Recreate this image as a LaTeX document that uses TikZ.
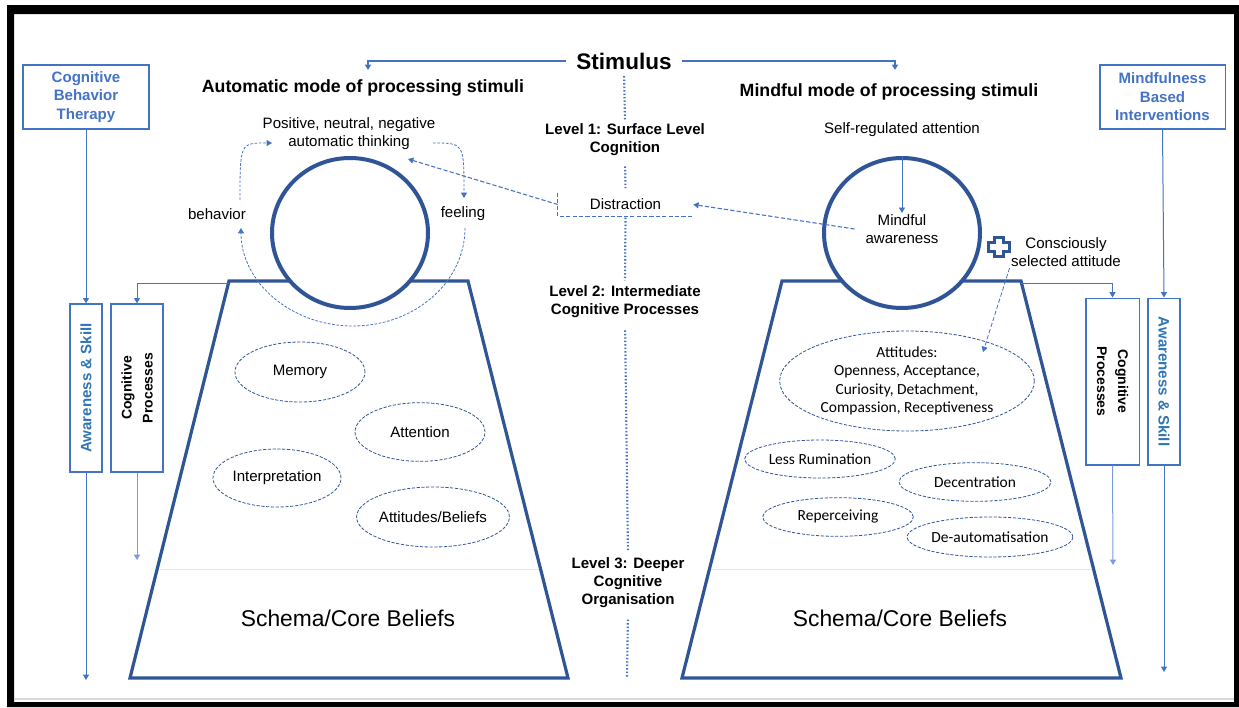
\documentclass[tikz,border=0pt]{standalone}
\usepackage{fontspec}
\setmainfont{Liberation Sans}
\newfontfamily\calfont{Carlito}
\usetikzlibrary{shapes.geometric,arrows.meta}
\definecolor{dkblue}{HTML}{2F5597}
\definecolor{ltblue}{HTML}{4472C4}
\definecolor{skillblue}{HTML}{2E75B6}
\newcommand\pxsize[2]{\fontsize{#1}{#2}\selectfont}

\tikzset{
  tip/.style={-{Triangle[width=4.5pt,length=4pt]}},
  conn/.style={draw=ltblue, line width=1.1pt, tip},
  thinconn/.style={draw=ltblue, line width=0.75pt, tip},
  dashconn/.style={draw=ltblue, line width=0.8pt, dash pattern=on 3.2pt off 1.6pt, tip},
  dasharc/.style={draw=ltblue, line width=0.6pt, dash pattern=on 2pt off 1.2pt, tip},
  dotline/.style={draw=ltblue, line width=1.6pt, dash pattern=on 1.1pt off 1.5pt},
  trap/.style={draw=dkblue, line width=2.4pt, line join=miter},
  sepline/.style={draw=black!10, line width=0.75pt},
  ring/.style={ellipse, draw=dkblue, line width=3pt, fill=white, inner sep=0pt,
    minimum width=117pt, minimum height=112.5pt},
  bubble/.style={ellipse, draw=dkblue, line width=0.6pt, dash pattern=on 2.4pt off 1.2pt,
    inner sep=0pt, align=center, font=\pxsize{11.3}{13.5}},
  mbubble/.style={bubble, font=\calfont\pxsize{11.6}{13.7}},
  sidebox/.style={draw=ltblue, line width=1pt, inner sep=0pt},
  sidetext/.style={font=\bfseries\pxsize{11.3}{13.9}, align=center, inner sep=0pt},
  lvl/.style={font=\bfseries\pxsize{11.3}{13.5}, align=center, inner sep=1pt},
  body/.style={font=\pxsize{11.3}{13.5}, align=center, inner sep=1pt},
  title/.style={font=\bfseries\pxsize{13.3}{16}, inner sep=1pt},
  schema/.style={font=\pxsize{17.1}{20}, inner sep=1pt},
}

\begin{document}
\begin{tikzpicture}[x=0.75pt,y=-0.75pt]
\useasboundingbox (0,0) rectangle (1239,707);

% frame
\fill[black, even odd rule] (7,5) rectangle (1239,707) (14,14) rectangle (1234,702);
\draw[black!15, line width=0.9pt] (14,699) -- (1234,699);

% the two processing trapezoids
\draw[trap] (229,281) -- (468,281) -- (568,678) -- (130,678) -- cycle;
\draw[trap] (782,281) -- (1021,281) -- (1121,678) -- (682,678) -- cycle;
\draw[sepline] (160,569) -- (539,569);
\draw[sepline] (711,569) -- (1092,569);
\coordinate (ltl) at (229,283);
\coordinate (rtr) at (1021,283);

% surface-level circles
\node[ring] (lcirc) at (350,233) {};
\node[ring] (rcirc) at (902,233) {};

% headings
\node[font=\bfseries\pxsize{16.9}{20}, inner xsep=7.5pt, inner ysep=1pt] (stim) at (624,61) {Stimulus};
\node[title] (automode) at (363,88) {Automatic mode of processing stimuli};
\node[title] (mindmode) at (889,92) {Mindful mode of processing stimuli};
\coordinate (autoIn) at (368,70);
\coordinate (mindIn) at (895,70);
\draw[conn] (stim.west) -| (autoIn);
\draw[conn] (stim.east) -| (mindIn);

% levels along the middle
\node[lvl] (lev1) at (625,140) {Level 1: Surface Level\\Cognition};
\node[body, minimum width=101.25pt, minimum height=17.25pt, inner sep=0pt] (distr) at (625.5,204.5) {Distraction};
\node[lvl] (lev2) at (625,302) {Level 2: Intermediate\\Cognitive Processes};
\node[lvl] (lev3) at (628,583) {Level 3: Deeper\\Cognitive\\Organisation};
\coordinate (midEnd) at (627,677);
\draw[dashconn, -] (distr.north west) -- (distr.south west) -- (distr.south east);
\draw[dotline, shorten <=4pt, shorten >=2pt] (stim.south) -- (lev1.north);
\draw[dotline, shorten <=6.5pt, shorten >=3.5pt] (lev1.south) -- (distr.north);
\draw[dotline, shorten <=1pt, shorten >=3pt] (distr.south) -- (lev2.north);
\draw[dotline, shorten <=8pt, shorten >=4.5pt] (lev2.south) -- (lev3.north);
\draw[dotline, shorten <=7.5pt] (lev3.south) -- (midEnd);

% automatic cycle
\node[body] (athink) at (349,134) {Positive, neutral, negative\\automatic thinking};
\node[body] (behav) at (217,214) {behavior};
\node[body] (feel) at (463,214) {feeling};
\coordinate (behUp) at (240,200);
\coordinate (athL) at (272,143);
\coordinate (athR) at (433,143);
\coordinate (feelUp) at (464,198);
\coordinate (feelDn) at (465,228);
\coordinate (athinkIn) at (408,159);
\draw[dasharc] (behUp) .. controls (240,143) .. (athL);
\draw[dasharc] (athR) .. controls (464,143) .. (feelUp);
\draw[dasharc] (feelDn) arc[start angle=0, end angle=180, x radius=112, y radius=98];

% mindful side
\node[body] (sra) at (902,130) {Self-regulated attention};
\node[body] (mind) at (902,229) {Mindful\\awareness};
\node[body] (consc) at (1066,252) {Consciously\\selected attitude};
\draw[thinconn, line width=0.6pt] (rcirc.north) -- (mind.north);
\draw[dashconn] (distr.west) -- (athinkIn);
\draw[dashconn] ([xshift=-7pt]mind.west) -- (distr.east);
\draw[dkblue, line width=2.6pt, fill=white, line join=miter]
  (994.5,237.5) -- (1003.5,237.5) -- (1003.5,242.5) -- (1009.5,242.5) -- (1009.5,251.5) -- (1003.5,251.5)
  -- (1003.5,256.5) -- (994.5,256.5) -- (994.5,251.5) -- (988.5,251.5) -- (988.5,242.5) -- (994.5,242.5) -- cycle;

% cognitive processes, automatic mode
\node[bubble, minimum width=97.5pt, minimum height=45pt] (memory) at (300,372) {Memory};
\node[bubble, minimum width=97.5pt, minimum height=44pt] (attention) at (420,432) {Attention};
\node[bubble, minimum width=96pt, minimum height=43.5pt] (interp) at (277,478) {Interpretation};
\node[bubble, minimum width=96pt, minimum height=45pt] (attbel) at (433,517) {Attitudes/Beliefs};

% cognitive processes, mindful mode
\node[mbubble, minimum width=191pt, minimum height=75pt] (attitudes) at (907,381)
  {Attitudes:\\Openness, Acceptance,\\Curiosity, Detachment,\\Compassion, Receptiveness};
\node[mbubble, minimum width=113pt, minimum height=28.5pt] (rumin) at (820,459) {Less Rumination};
\node[mbubble, minimum width=114pt, minimum height=29pt] (decent) at (975,482) {Decentration};
\node[mbubble, minimum width=113pt, minimum height=29pt] (reperc) at (838,517) {Reperceiving};
\node[mbubble, minimum width=115pt, minimum height=30pt] (deauto) at (990,537) {De-automatisation};
\coordinate (attIn) at (983,352);
\draw[dashconn, line width=0.6pt] (consc.south west) -- (attIn);

% core beliefs
\node[schema] (schemaL) at (348,618) {Schema/Core Beliefs};
\node[schema] (schemaR) at (900,618) {Schema/Core Beliefs};

% therapy side columns, left
\node[sidebox, minimum width=94.5pt, minimum height=48pt, sidetext, text=ltblue] (cbt) at (86,97)
  {Cognitive\\Behavior\\Therapy};
\node[sidebox, minimum width=24pt, minimum height=126pt] (lawa) at (86,388) {};
\node[sidetext, rotate=90, text=skillblue] (lawaT) at (lawa.center) {Awareness \& Skill};
\node[sidebox, minimum width=39pt, minimum height=126pt] (lcog) at (137,388) {};
\node[sidetext, rotate=90, font=\bfseries\pxsize{10.5}{15.75}] (lcogT) at (lcog.center) {Cognitive\\Processes};
\coordinate (lawaEnd) at (86,680);
\coordinate (lcogEnd) at (137,560);
\draw[thinconn] (cbt.south) -- (lawa.north);
\draw[thinconn] (lawa.south) -- (lawaEnd);
\draw[thinconn] (ltl) -| (lcog.north);
\draw[thinconn, draw=ltblue!70] (lcog.south) -- (lcogEnd);

% therapy side columns, right
\node[sidebox, minimum width=94pt, minimum height=48pt, sidetext, text=ltblue] (mbi) at (1162.5,97)
  {Mindfulness\\Based\\Interventions};
\node[sidebox, minimum width=24pt, minimum height=125pt] (rawa) at (1164,381.5) {};
\node[sidetext, rotate=-90, text=skillblue] (rawaT) at (rawa.center) {Awareness \& Skill};
\node[sidebox, minimum width=40pt, minimum height=125pt] (rcog) at (1112.5,381.5) {};
\node[sidetext, rotate=-90, font=\bfseries\pxsize{10.5}{15.75}] (rcogT) at (rcog.center) {Cognitive\\Processes};
\coordinate (rawaEnd) at (1164,672);
\coordinate (rcogEnd) at (1113,565);
\draw[thinconn] (mbi.south) -- (rawa.north);
\draw[thinconn] (rawa.south) -- (rawaEnd);
\draw[thinconn] (rtr) -| (rcog.north);
\draw[thinconn, draw=ltblue!70] (rcog.south) -- (rcogEnd);
\end{tikzpicture}
\end{document}
